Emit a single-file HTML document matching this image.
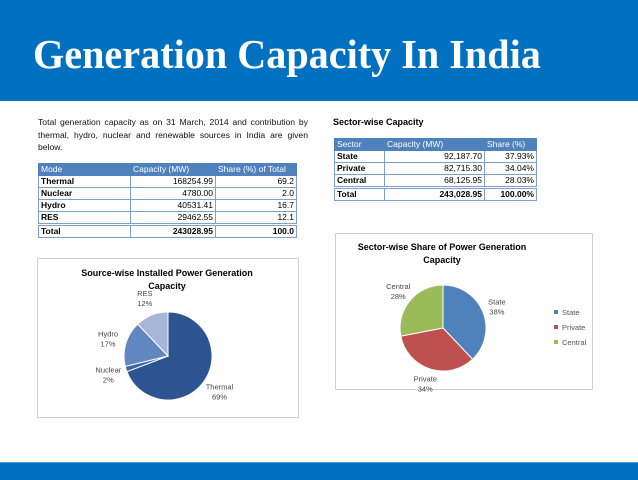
<!DOCTYPE html>
<html><head><meta charset="utf-8"><style>
body{margin:0;width:638px;height:479px;position:relative;background:#fff;font-family:"Liberation Sans",sans-serif;overflow:hidden}
.hdr{position:absolute;left:0;top:0;width:638px;height:101px;background:#0070C0}
.hdr h1{position:absolute;left:33px;top:30px;margin:0;font-family:"Liberation Serif",serif;font-weight:bold;color:#fff;font-size:41px;letter-spacing:0px;transform-origin:0 0;transform:scaleX(0.98);white-space:nowrap}
.foot{position:absolute;left:0;top:462px;width:638px;height:17px;background:#0070C0;border-top:1px solid #4fa3db}
.intro{position:absolute;left:38px;top:116px;width:270px;font-size:8.6px;line-height:12.5px;text-align:justify;color:#111}
table{position:absolute;border-collapse:collapse;font-size:8.5px;table-layout:fixed}
td{border:1px solid #7f9fcf;padding:0 2px;height:11px;line-height:11px;white-space:nowrap}
tr.h td{background:#4F81BD;color:#fff;border-color:#4F81BD}
tr.t td{border-top:3px double #7f9fcf;font-weight:bold}
td.n{text-align:right}
td.b{font-weight:bold}
.box{position:absolute;border:1px solid #d0d0d0;background:#fff}
.stitle{position:absolute;left:333px;top:117px;font-size:9px;font-weight:bold}
</style></head><body>
<div class="hdr"><h1>Generation Capacity In India</h1></div>
<div class="intro">Total generation capacity as on 31 March, 2014 and contribution by thermal, hydro, nuclear and renewable sources in India are given below.</div>
<table style="left:38px;top:163px;width:258px">
<colgroup><col style="width:92px"><col style="width:85px"><col style="width:81px"></colgroup>
<tr class="h"><td>Mode</td><td>Capacity (MW)</td><td>Share (%) of Total</td></tr>
<tr><td class="b">Thermal</td><td class="n">168254.99</td><td class="n">69.2</td></tr>
<tr><td class="b">Nuclear</td><td class="n">4780.00</td><td class="n">2.0</td></tr>
<tr><td class="b">Hydro</td><td class="n">40531.41</td><td class="n">16.7</td></tr>
<tr><td class="b">RES</td><td class="n">29462.55</td><td class="n">12.1</td></tr>
<tr class="t"><td>Total</td><td class="n">243028.95</td><td class="n">100.0</td></tr>
</table>
<div class="stitle">Sector-wise Capacity</div>
<table style="left:334px;top:138px;width:202px">
<colgroup><col style="width:50px"><col style="width:100px"><col style="width:52px"></colgroup>
<tr class="h"><td>Sector</td><td>Capacity (MW)</td><td>Share (%)</td></tr>
<tr><td class="b">State</td><td class="n">92,187.70</td><td class="n">37.93%</td></tr>
<tr><td class="b">Private</td><td class="n">82,715.30</td><td class="n">34.04%</td></tr>
<tr><td class="b">Central</td><td class="n">68,125.95</td><td class="n">28.03%</td></tr>
<tr class="t"><td>Total</td><td class="n">243,028.95</td><td class="n">100.00%</td></tr>
</table>
<div class="box" style="left:37px;top:258px;width:260px;height:158px"></div>
<div class="box" style="left:335px;top:233px;width:256px;height:155px"></div>
<svg id="svg" width="638" height="479" style="position:absolute;left:0;top:0" font-family="Liberation Sans, sans-serif">
<text x="167" y="276" font-size="9" font-weight="bold" text-anchor="middle">Source-wise Installed Power Generation</text>
<text x="167" y="289" font-size="9" font-weight="bold" text-anchor="middle">Capacity</text>
<text x="442" y="250" font-size="9" font-weight="bold" text-anchor="middle">Sector-wise Share of Power Generation</text>
<text x="442" y="263" font-size="9" font-weight="bold" text-anchor="middle">Capacity</text>
</svg>
<div class="foot"></div>
<script>
const srcCats=["Thermal","Nuclear","Hydro","RES"];
const srcVals=[69.2,2.0,16.7,12.1];
const srcLabels=["69%","2%","17%","12%"];
const secCats=["State","Private","Central"];
const secVals=[37.93,34.04,28.03];
const secLabels=["38%","34%","28%"];
const svg=document.getElementById('svg');
const NS='http://www.w3.org/2000/svg';
function mk(t,a){const e=document.createElementNS(NS,t);for(const k in a)e.setAttribute(k,a[k]);svg.appendChild(e);return e;}
function pie(cx,cy,r,vals,cats,labels,colors,labelPos,prefix){
  const tot=vals.reduce((a,b)=>a+b,0);let a0=-Math.PI/2;
  vals.forEach((v,i)=>{
    const a1=a0+v/tot*2*Math.PI;
    const x0=cx+r*Math.cos(a0),y0=cy+r*Math.sin(a0),x1=cx+r*Math.cos(a1),y1=cy+r*Math.sin(a1);
    const p=mk('path',{d:`M${cx},${cy}L${x0},${y0}A${r},${r} 0 ${a1-a0>Math.PI?1:0} 1 ${x1},${y1}Z`,fill:colors[i],stroke:'#fff','stroke-width':1});
    
    
    const am=(a0+a1)/2,lr=r*labelPos;
    const lx=cx+lr*Math.cos(am),ly=cy+lr*Math.sin(am);
    const t1=mk('text',{x:lx,y:ly-2,'font-size':7.5,fill:'#444','text-anchor':'middle'});t1.textContent=cats[i];
    
    
    const t2=mk('text',{x:lx,y:ly+8,'font-size':7.5,fill:'#444','text-anchor':'middle'});t2.textContent=labels[i];
    
    
    a0=a1;
  });
}
pie(168,356,44,srcVals,srcCats,srcLabels,['#2C5491','#3C67A6','#6287C0','#A5B6D6'],1.42,'source');
pie(443,328,43,secVals,secCats,secLabels,['#4F81BD','#C0504D','#9BBB59'],1.35,'sector');
const secColors=['#4F81BD','#C0504D','#9BBB59'];
secCats.forEach((c,i)=>{
  const y=313+i*15;
  const r=mk('rect',{x:554,y:y-3,width:4,height:4,fill:secColors[i]});
  
  
  const t=mk('text',{x:562,y:y+2,'font-size':7.5,fill:'#555'});t.textContent=c;
  
  
});
</script>
</body></html>
